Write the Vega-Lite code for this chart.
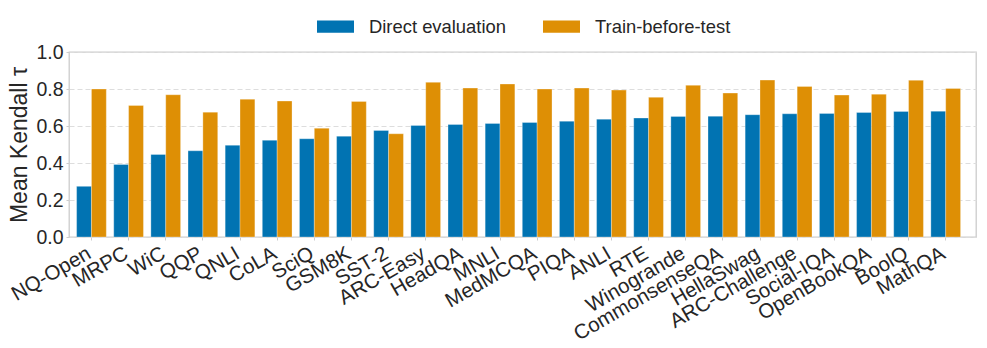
{
  "$schema": "https://vega.github.io/schema/vega-lite/v6.json",
  "autosize": {"type": "none"},
  "width": 907,
  "height": 185,
  "padding": {"left": 69, "top": 52, "right": 11, "bottom": 111},
  "background": "white",
  "config": {
    "font": "Liberation Sans",
    "view": {"stroke": "#cccccc", "strokeWidth": 1.3},
    "axis": {"labelColor": "#262626", "titleColor": "#262626", "domain": false}
  },
  "data": {
    "values": [
      {"dataset": "NQ-Open", "method": "Direct evaluation", "value": 0.274},
      {"dataset": "NQ-Open", "method": "Train-before-test", "value": 0.800},
      {"dataset": "MRPC", "method": "Direct evaluation", "value": 0.392},
      {"dataset": "MRPC", "method": "Train-before-test", "value": 0.711},
      {"dataset": "WiC", "method": "Direct evaluation", "value": 0.446},
      {"dataset": "WiC", "method": "Train-before-test", "value": 0.769},
      {"dataset": "QQP", "method": "Direct evaluation", "value": 0.466},
      {"dataset": "QQP", "method": "Train-before-test", "value": 0.675},
      {"dataset": "QNLI", "method": "Direct evaluation", "value": 0.496},
      {"dataset": "QNLI", "method": "Train-before-test", "value": 0.745},
      {"dataset": "CoLA", "method": "Direct evaluation", "value": 0.523},
      {"dataset": "CoLA", "method": "Train-before-test", "value": 0.735},
      {"dataset": "SciQ", "method": "Direct evaluation", "value": 0.531},
      {"dataset": "SciQ", "method": "Train-before-test", "value": 0.588},
      {"dataset": "GSM8K", "method": "Direct evaluation", "value": 0.545},
      {"dataset": "GSM8K", "method": "Train-before-test", "value": 0.733},
      {"dataset": "SST-2", "method": "Direct evaluation", "value": 0.576},
      {"dataset": "SST-2", "method": "Train-before-test", "value": 0.558},
      {"dataset": "ARC-Easy", "method": "Direct evaluation", "value": 0.603},
      {"dataset": "ARC-Easy", "method": "Train-before-test", "value": 0.836},
      {"dataset": "HeadQA", "method": "Direct evaluation", "value": 0.608},
      {"dataset": "HeadQA", "method": "Train-before-test", "value": 0.805},
      {"dataset": "MNLI", "method": "Direct evaluation", "value": 0.614},
      {"dataset": "MNLI", "method": "Train-before-test", "value": 0.827},
      {"dataset": "MedMCQA", "method": "Direct evaluation", "value": 0.619},
      {"dataset": "MedMCQA", "method": "Train-before-test", "value": 0.800},
      {"dataset": "PIQA", "method": "Direct evaluation", "value": 0.626},
      {"dataset": "PIQA", "method": "Train-before-test", "value": 0.805},
      {"dataset": "ANLI", "method": "Direct evaluation", "value": 0.637},
      {"dataset": "ANLI", "method": "Train-before-test", "value": 0.794},
      {"dataset": "RTE", "method": "Direct evaluation", "value": 0.643},
      {"dataset": "RTE", "method": "Train-before-test", "value": 0.755},
      {"dataset": "Winogrande", "method": "Direct evaluation", "value": 0.652},
      {"dataset": "Winogrande", "method": "Train-before-test", "value": 0.820},
      {"dataset": "CommonsenseQA", "method": "Direct evaluation", "value": 0.653},
      {"dataset": "CommonsenseQA", "method": "Train-before-test", "value": 0.778},
      {"dataset": "HellaSwag", "method": "Direct evaluation", "value": 0.661},
      {"dataset": "HellaSwag", "method": "Train-before-test", "value": 0.848},
      {"dataset": "ARC-Challenge", "method": "Direct evaluation", "value": 0.666},
      {"dataset": "ARC-Challenge", "method": "Train-before-test", "value": 0.814},
      {"dataset": "Social-IQA", "method": "Direct evaluation", "value": 0.668},
      {"dataset": "Social-IQA", "method": "Train-before-test", "value": 0.767},
      {"dataset": "OpenBookQA", "method": "Direct evaluation", "value": 0.673},
      {"dataset": "OpenBookQA", "method": "Train-before-test", "value": 0.772},
      {"dataset": "BoolQ", "method": "Direct evaluation", "value": 0.679},
      {"dataset": "BoolQ", "method": "Train-before-test", "value": 0.847},
      {"dataset": "MathQA", "method": "Direct evaluation", "value": 0.680},
      {"dataset": "MathQA", "method": "Train-before-test", "value": 0.803}
    ]
  },
  "mark": {"type": "bar", "stroke": "white", "strokeWidth": 0.6, "strokeOpacity": 0.5},
  "encoding": {
    "x": {
      "field": "dataset",
      "type": "nominal",
      "sort": null,
      "scale": {"paddingInner": 0.2, "paddingOuter": 0.31, "align": 0.33},
      "axis": {
        "title": null,
        "labelAngle": -30,
        "labelAlign": "right",
        "labelBaseline": "top",
        "labelFontSize": 20.5,
        "labelPadding": 3,
        "labelOffset": -7,
        "ticks": true,
        "tickSize": 3,
        "tickColor": "#cccccc",
        "grid": false,
        "labelOverlap": false
      }
    },
    "xOffset": {"field": "method", "type": "nominal", "sort": ["Direct evaluation", "Train-before-test"], "scale": {"paddingInner": 0, "paddingOuter": 0}},
    "y": {
      "field": "value",
      "type": "quantitative",
      "scale": {"domain": [0, 1], "nice": false},
      "axis": {
        "title": "Mean Kendall τ",
        "titleFontSize": 23,
        "titleFontWeight": "normal",
        "titlePadding": 4,
        "values": [0, 0.2, 0.4, 0.6, 0.8, 1.0],
        "format": ".1f",
        "labelFontSize": 19.5,
        "labelPadding": 3,
        "tickSize": 3,
        "tickColor": "#cccccc",
        "grid": true,
        "gridColor": "#dddddd",
        "gridDash": [5, 3],
        "gridWidth": 1
      }
    },
    "color": {
      "field": "method",
      "type": "nominal",
      "scale": {"domain": ["Direct evaluation", "Train-before-test"], "range": ["#0173b2", "#de8f05"]},
      "legend": {
        "title": null,
        "orient": "none",
        "direction": "horizontal",
        "legendX": 254,
        "legendY": -38,
        "symbolType": "M-1.5,-0.5H1.5V0.5H-1.5Z",
        "symbolSize": 608,
        "symbolStrokeWidth": 0,
        "labelFontSize": 18.4,
        "labelColor": "#262626",
        "labelOffset": 21,
        "columnPadding": 37,
        "padding": 0
      }
    }
  }
}
